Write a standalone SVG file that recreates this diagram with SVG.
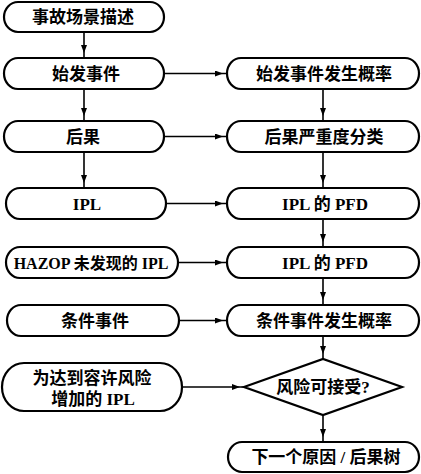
<svg xmlns="http://www.w3.org/2000/svg" width="421" height="474" viewBox="0 0 421 474">
<defs>
<marker id="ah" markerWidth="8" markerHeight="6" refX="8" refY="3" orient="auto" markerUnits="userSpaceOnUse">
<path d="M0,0 L8,3 L0,6 z" fill="#000"/>
</marker>
<style>
.n{fill:#fff;stroke:#000;stroke-width:2.2}
.c{fill:none;stroke:#000;stroke-width:1.6;marker-mid:url(#ah)}
.t{font-family:"Liberation Serif","Noto Sans CJK SC",serif;font-size:17px;font-weight:700;text-anchor:middle;fill:#000}
.sm{font-size:16px}
</style>
</defs>
<rect width="421" height="474" fill="#fff"/>
<g id="connectors">
<path class="c" d="M84,32 V53 V58"/>
<path class="c" d="M84,89 V116 V121"/>
<path class="c" d="M84,152 V183 V188"/>
<path class="c" d="M323,89 V116 V121"/>
<path class="c" d="M323,152 V183 V188"/>
<path class="c" d="M323,219 V242 V247"/>
<path class="c" d="M323,278 V300 V305"/>
<path class="c" d="M323,336 V354 V359"/>
<path class="c" d="M323,415 V437 V442"/>
<path class="c" d="M164,73.5 H223 H227"/>
<path class="c" d="M164,136.5 H223 H227"/>
<path class="c" d="M166,203.5 H223 H227"/>
<path class="c" d="M178,262.5 H223 H227"/>
<path class="c" d="M179,320.5 H223 H227"/>
<path class="c" d="M182,387 H240 H244"/>
</g>
<g id="n1"><rect class="n" x="4" y="2" width="160" height="30" rx="14" ry="15"/><text class="t" x="83" y="23">事故场景描述</text></g>
<g id="n2"><rect class="n" x="4" y="58" width="160" height="31" rx="14" ry="15.5"/><text class="t" x="86" y="80">始发事件</text></g>
<g id="n3"><rect class="n" x="4" y="121" width="160" height="31" rx="14" ry="15.5"/><text class="t" x="83" y="143">后果</text></g>
<g id="n4"><rect class="n" x="6" y="188" width="160" height="31" rx="14" ry="15.5"/><text class="t" x="87" y="210">IPL</text></g>
<g id="n5"><rect class="n" x="6" y="247" width="172" height="31" rx="14" ry="15.5"/><text class="t sm" x="91" y="269">HAZOP 未发现的 IPL</text></g>
<g id="n6"><rect class="n" x="7" y="305" width="172" height="31" rx="14" ry="15.5"/><text class="t" x="95" y="327">条件事件</text></g>
<g id="n7"><rect class="n" x="2" y="363" width="180" height="48" rx="22" ry="24"/><text class="t" x="92" y="384">为达到容许风险</text><text class="t" x="93" y="405">增加的 IPL</text></g>
<g id="r2"><rect class="n" x="227" y="58" width="192" height="31" rx="14" ry="15.5"/><text class="t" x="324" y="80">始发事件发生概率</text></g>
<g id="r3"><rect class="n" x="227" y="121" width="192" height="31" rx="14" ry="15.5"/><text class="t" x="324" y="143">后果严重度分类</text></g>
<g id="r4"><rect class="n" x="227" y="188" width="192" height="31" rx="14" ry="15.5"/><text class="t" x="325" y="210">IPL 的 PFD</text></g>
<g id="r5"><rect class="n" x="227" y="247" width="192" height="31" rx="14" ry="15.5"/><text class="t" x="325" y="269">IPL 的 PFD</text></g>
<g id="r6"><rect class="n" x="227" y="305" width="192" height="31" rx="14" ry="15.5"/><text class="t" x="324" y="327">条件事件发生概率</text></g>
<g id="d1"><polygon class="n" points="244,387 323,359 402,387 323,415"/><text class="t" x="323" y="393">风险可接受?</text></g>
<g id="r8"><rect class="n" x="228" y="442" width="191" height="30" rx="14" ry="15"/><text class="t" x="326" y="463">下一个原因 / 后果树</text></g>
</svg>
